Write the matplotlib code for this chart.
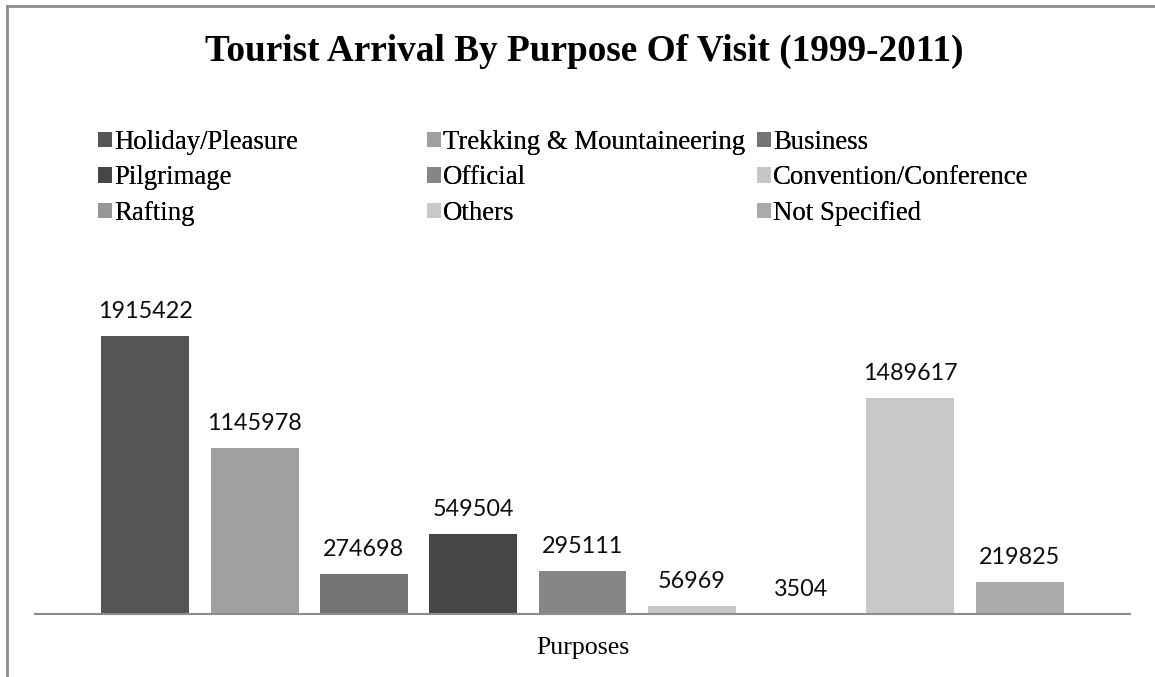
import numpy as np
import matplotlib.pyplot as plt
from matplotlib.lines import Line2D

# Tourist arrivals by purpose of visit, 1999-2011
purposes = ['Holiday/Pleasure', 'Trekking & Mountaineering', 'Business',
            'Pilgrimage', 'Official', 'Convention/Conference',
            'Rafting', 'Others', 'Not Specified']
arrivals = [1915422, 1145978, 274698, 549504, 295111, 56969, 3504, 1489617, 219825]
colors = ['#555555', '#a0a0a0', '#747474', '#464646', '#868686', '#c6c6c6',
          '#969696', '#c8c8c8', '#aaaaaa']

W, H = 1155, 677
fig = plt.figure(figsize=(W / 100, H / 100), dpi=100)
ax = fig.add_axes([35 / W, 1 - 614 / H, 1095 / W, 354 / H])

x = np.arange(len(purposes))
bars = []
for i in range(len(purposes)):
    b = ax.bar(x[i], arrivals[i], width=0.805, color=colors[i], label=purposes[i])
    bars.append(b)
    ax.bar_label(b, labels=[str(arrivals[i])], padding=10,
                 fontsize=16.8, family='Lato', color='#0d0d0d')

ax.set_xlim(-1.01, 9.01)
ax.set_ylim(0, 2439000)
for s in ['top', 'left', 'right']:
    ax.spines[s].set_visible(False)
ax.spines['bottom'].set_color('#8c8c8c')
ax.spines['bottom'].set_linewidth(1.5)
ax.set_xticks([])
ax.set_yticks([])

# title and axis label
fig.text(584 / W, 1 - 51 / H, 'Tourist Arrival By Purpose Of Visit (1999-2011)',
         ha='center', va='center', family='Liberation Serif',
         fontweight='bold', fontsize=26.8)
fig.text(583 / W, 1 - 648 / H, 'Purposes', ha='center', va='center',
         family='Liberation Serif', fontsize=18.6)

# legend: three columns, filled row by row
col_x = [98, 427, 757]
for c in range(3):
    idx = [c, c + 3, c + 6]
    leg = fig.legend([bars[i] for i in idx], [purposes[i] for i in idx],
                     loc='upper left', bbox_to_anchor=(col_x[c] / W, 1 - 130 / H),
                     frameon=False, borderpad=0, borderaxespad=0,
                     handlelength=0.52, handleheight=0.52, handletextpad=0.08,
                     labelspacing=0.39,
                     prop={'family': 'Liberation Serif', 'size': 19.3})
    fig.add_artist(leg)

# outer border
fig.add_artist(Line2D([6.5 / W, 6.5 / W], [0, 1 - 5.5 / H], transform=fig.transFigure,
                      color='#8c8c8c', lw=2))
fig.add_artist(Line2D([6.5 / W, 1], [1 - 5.5 / H, 1 - 5.5 / H], transform=fig.transFigure,
                      color='#8c8c8c', lw=2))

fig.savefig('out.png', dpi=100)
